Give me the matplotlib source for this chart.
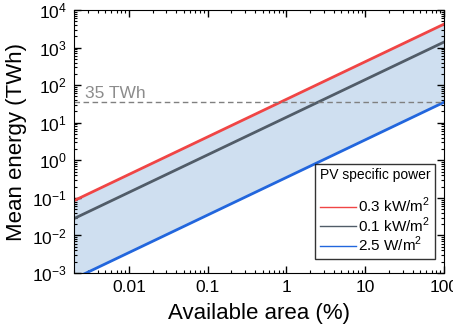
"""
Mean energy vs available area for three PV specific powers
"""
import matplotlib
matplotlib.use('Agg')
import matplotlib.pyplot as plt
import numpy as np

# data (straight lines in log-log, so endpoints are enough)
area = [0.002, 100]
e_high = [0.084, 4200]   # 0.3 kW/m2
e_mid = [0.028, 1400]    # 0.1 kW/m2
e_low = [0.0007, 35]     # 2.5 W/m2
target = 35
labels = ['0.3 kW/m$^2$', '0.1 kW/m$^2$', '2.5 W/m$^2$']

plt.rcParams['font.family'] = ['Liberation Sans', 'DejaVu Sans']
plt.rcParams['mathtext.fontset'] = 'custom'
plt.rcParams['mathtext.rm'] = 'Liberation Sans'

fig, ax = plt.subplots(figsize=(4.53, 3.33), dpi=100)
fig.subplots_adjust(left=0.163, right=0.98, top=0.97, bottom=0.18)

ax.fill_between(area, e_low, e_high, color='#cfdff0', lw=0)
ax.plot(area, e_high, c='#f04545', lw=2, label=labels[0])
ax.plot(area, e_mid, c='#515c68', lw=2, label=labels[1])
ax.plot(area, e_low, c='#2266dd', lw=2, label=labels[2])
ax.axhline(target, c='#808080', ls=(0, (4, 2.5)), lw=1)
ax.annotate('35 TWh', (0.0028, target), xytext=(0, 1), textcoords='offset points',
            color='#8c8c8c', fontsize=12.5, ha='left', va='bottom')

ax.set_xscale('log')
ax.set_yscale('log')
ax.set_xlim(0.002, 100)
ax.set_ylim(1e-3, 1e4)
ax.set_xticks([0.01, 0.1, 1, 10, 100])
ax.set_xticklabels(['0.01', '0.1', '1', '10', '100'])
ax.yaxis.set_major_locator(matplotlib.ticker.LogLocator(base=10, numticks=10))
ax.yaxis.set_minor_locator(matplotlib.ticker.LogLocator(base=10, subs=np.arange(2, 10), numticks=10))
ax.tick_params(which='both', direction='in', top=True, right=True, labelsize=12.5)
ax.tick_params(which='major', length=5, width=1, pad=5)
ax.tick_params(which='minor', length=2.5, width=0.8)
ax.set_xlabel('Available area (%)', fontsize=16, labelpad=6)
ax.set_ylabel('Mean energy (TWh)', fontsize=16)

# blank handle makes the gap under the legend title
h, l = ax.get_legend_handles_labels()
blank = plt.Line2D([], [], color='none', lw=0)
leg = ax.legend([blank] + h, [''] + l, title='PV specific power', loc='lower right',
                fontsize=11, title_fontsize=10, frameon=True, fancybox=False,
                edgecolor='black', handlelength=2.3, handletextpad=0.15,
                borderpad=0.3, labelspacing=0.0, borderaxespad=0,
                bbox_to_anchor=(0.976, 0.055))
leg.get_frame().set_linewidth(1)
for line in leg.get_lines():
    line.set_linewidth(1)

fig.savefig('out.png', dpi=100)
